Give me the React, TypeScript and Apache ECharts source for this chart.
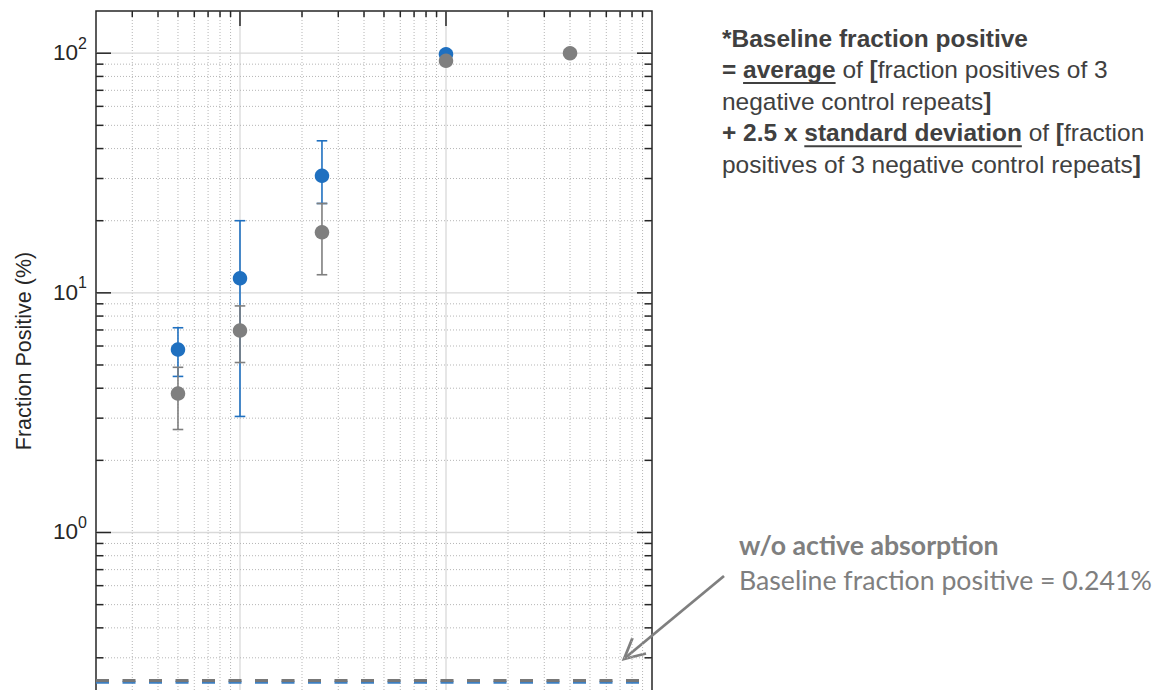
import React, { useEffect, useRef } from 'react';
import * as echarts from 'echarts';

// ---- axis structure ----
const xRange = [2, 1000];
const yRange = [0.2, 150];
const xTicksMajor = [10, 100];
const xTicksMinor = [3, 4, 5, 6, 7, 8, 9, 20, 30, 40, 50, 60, 70, 80, 90, 200, 300, 400, 500, 600, 700, 800, 900];
const yTicksMajor = [1, 10, 100];
const yTicksMinor = [0.3, 0.4, 0.5, 0.6, 0.7, 0.8, 0.9, 2, 3, 4, 5, 6, 7, 8, 9, 20, 30, 40, 50, 60, 70, 80, 90];

// ---- data ----
const blueX = [5, 10, 25, 100];
const blueMean = [5.8, 11.5, 30.8, 99.0];
const blueLow = [4.48, 3.05, 23.6, 99.0];
const blueHigh = [7.15, 20.0, 43.1, 99.0];

const grayX = [5, 10, 25, 100, 400];
const grayMean = [3.8, 6.96, 17.9, 93.0, 100];
const grayLow = [2.69, 5.12, 11.9, 93.0, 100];
const grayHigh = [4.89, 8.82, 23.6, 93.0, 100];

const baselineBlue = 0.237;
const baselineGray = 0.241;

const BLUE = '#1f70c0';
const GRAY = '#7f7f7f';
const AX = '#262626';
const FONT = 'Liberation Sans, Arial, Helvetica, sans-serif';

function measure(text: string, font: string): number {
  const c = document.createElement('canvas');
  const ctx = c.getContext('2d')!;
  ctx.font = font;
  return ctx.measureText(text).width;
}

function errRender(color: string) {
  return (params: any, api: any) => {
    const x = api.value(0);
    const lo = api.value(1);
    const hi = api.value(2);
    if (!(hi > lo)) return null;
    const p1 = api.coord([x, lo]);
    const p2 = api.coord([x, hi]);
    const hw = 5.3;
    const style = { stroke: color, lineWidth: 1.6 };
    return {
      type: 'group',
      children: [
        { type: 'line', shape: { x1: p1[0], y1: p1[1], x2: p2[0], y2: p2[1] }, style },
        { type: 'line', shape: { x1: p1[0] - hw, y1: p1[1], x2: p1[0] + hw, y2: p1[1] }, style },
        { type: 'line', shape: { x1: p2[0] - hw, y1: p2[1], x2: p2[0] + hw, y2: p2[1] }, style },
      ],
    };
  };
}

export default function App() {
  const ref = useRef<HTMLDivElement>(null);

  useEffect(() => {
    if (!ref.current) return;
    const chart = echarts.init(ref.current, undefined, { renderer: 'svg' });

    const gridData = [
      ...xTicksMajor.map((v) => [v, 1, 1]),
      ...xTicksMinor.map((v) => [v, 1, 0]),
      ...yTicksMajor.map((v) => [10, v, 3]),
      ...yTicksMinor.map((v) => [10, v, 2]),
    ];

    // ---- annotation text (top right) ----
    const w21 =
      measure('positives of 3 negative control repeats', '21px Liberation Sans') +
      measure(']', 'bold 21px Liberation Sans');
    const fs = (21 * 419) / w21;
    const bFont = `bold ${fs}px Liberation Sans`;
    const tx = 722;
    const lineCenters = [0, 1, 2, 3, 4].map((i) => 38 + 31.65 * i);
    const TC = '#404040';
    const rich = {
      b: { fontFamily: FONT, fontWeight: 'bold', fontSize: fs, fill: TC },
      r: { fontFamily: FONT, fontWeight: 'normal', fontSize: fs, fill: TC },
    };
    const lines = [
      '{b|*Baseline fraction positive}',
      '{b|= }{b|average}{r| of }{b|[}{r|fraction positives of 3}',
      '{r|negative control repeats}{b|]}',
      '{b|+ 2.5 x }{b|standard deviation}{r| of }{b|[}{r|fraction}',
      '{r|positives of 3 negative control repeats}{b|]}',
    ];
    const u1x = tx + measure('= ', bFont);
    const u1w = measure('average', bFont);
    const u2x = tx + measure('+ 2.5 x ', bFont);
    const u2w = measure('standard deviation', bFont);

    // ---- annotation text (bottom right) ----
    const calFs = (24 * 413) / measure('Baseline fraction positive = 0.241%', '24px Lato');

    const graphic: any[] = [
      ...lines.map((t, i) => ({
        type: 'text',
        x: tx,
        y: lineCenters[i],
        style: { text: t, rich, fill: TC, fontFamily: FONT, fontSize: fs, align: 'left', verticalAlign: 'middle' },
      })),
      { type: 'rect', shape: { x: u1x, y: lineCenters[1] + 12.3, width: u1w, height: 2 }, style: { fill: TC } },
      { type: 'rect', shape: { x: u2x, y: lineCenters[3] + 12.3, width: u2w, height: 2 }, style: { fill: TC } },
      {
        type: 'text',
        x: 739,
        y: 545,
        style: { text: 'w/o active absorption', fontFamily: 'Lato', fontWeight: 'bold', fontSize: calFs, fill: GRAY, align: 'left', verticalAlign: 'middle' },
      },
      {
        type: 'text',
        x: 739,
        y: 579.5,
        style: { text: 'Baseline fraction positive = 0.241%', fontFamily: 'Lato', fontWeight: 'normal', fontSize: calFs, fill: GRAY, align: 'left', verticalAlign: 'middle' },
      },
      { type: 'line', shape: { x1: 724, y1: 576, x2: 625, y2: 658 }, style: { stroke: GRAY, lineWidth: 2.8 } },
      {
        type: 'polyline',
        shape: { points: [[646, 653.5], [624, 659], [632.5, 638]] },
        style: { stroke: GRAY, lineWidth: 2.8, fill: 'none' },
      },
      {
        type: 'text',
        x: 24,
        y: 351,
        rotation: Math.PI / 2,
        style: { text: 'Fraction Positive (%)', fontFamily: FONT, fontSize: 21.5, fill: AX, align: 'center', verticalAlign: 'middle' },
      },
    ];

    const option: any = {
      animation: false,
      backgroundColor: '#ffffff',
      grid: { left: 96, top: 11, width: 556, height: 689, show: true, borderColor: AX, borderWidth: 1.5, backgroundColor: 'transparent' },
      xAxis: {
        type: 'log',
        logBase: 10,
        min: xRange[0],
        max: xRange[1],
        axisLine: { show: false },
        axisTick: { show: false },
        axisLabel: { show: false },
        splitLine: { show: false },
      },
      yAxis: {
        type: 'log',
        logBase: 10,
        min: yRange[0],
        max: yRange[1],
        axisLine: { show: false },
        axisTick: { show: false },
        splitLine: { show: false },
        axisLabel: {
          margin: 9,
          formatter: (v: number) => {
            const e = Math.log10(v);
            if (Math.abs(e - Math.round(e)) < 1e-6) return `{b|10}{s|${Math.round(e)}}`;
            return '';
          },
          rich: {
            b: { fontFamily: FONT, fontSize: 22.5, lineHeight: 22, color: AX, verticalAlign: 'bottom' },
            s: { fontFamily: FONT, fontSize: 16, lineHeight: 16, color: AX, verticalAlign: 'bottom', padding: [0, 0, 13, 0] },
          },
        },
      },
      graphic,
      series: [
        {
          type: 'custom',
          z: 1,
          silent: true,
          data: gridData,
          renderItem: (params: any, api: any) => {
            const cs = params.coordSys;
            const kind = api.value(2);
            const major = kind % 2 === 1;
            const gridStyle = major
              ? { stroke: '#d9d9d9', lineWidth: 1.3 }
              : { stroke: '#b5b5b5', lineWidth: 1, lineDash: [1, 2] };
            const tickStyle = { stroke: AX, lineWidth: 1.5 };
            if (kind < 2) {
              const px = api.coord([api.value(0), 1])[0];
              const tl = major ? 15 : 6;
              return {
                type: 'group',
                children: [
                  { type: 'line', shape: { x1: px, y1: cs.y, x2: px, y2: cs.y + cs.height }, style: gridStyle },
                  { type: 'line', shape: { x1: px, y1: cs.y, x2: px, y2: cs.y + tl }, style: tickStyle },
                ],
              };
            }
            const py = api.coord([10, api.value(1)])[1];
            const tl = major ? 15 : 7.5;
            return {
              type: 'group',
              children: [
                { type: 'line', shape: { x1: cs.x, y1: py, x2: cs.x + cs.width, y2: py }, style: gridStyle },
                { type: 'line', shape: { x1: cs.x, y1: py, x2: cs.x + tl, y2: py }, style: tickStyle },
                { type: 'line', shape: { x1: cs.x + cs.width - tl, y1: py, x2: cs.x + cs.width, y2: py }, style: tickStyle },
              ],
            };
          },
        },
        {
          type: 'line',
          data: [[xRange[0], baselineBlue], [xRange[1], baselineBlue]],
          symbol: 'none',
          lineStyle: { color: '#3d7fc1', width: 3, type: [13, 13.5] },
        },
        {
          type: 'line',
          data: [[xRange[0], baselineGray], [xRange[1], baselineGray]],
          symbol: 'none',
          lineStyle: { color: '#777777', width: 3, type: [13, 13.5] },
        },
        {
          type: 'custom',
          data: blueX.map((x, i) => [x, blueLow[i], blueHigh[i]]),
          renderItem: errRender(BLUE),
        },
        {
          type: 'scatter',
          data: blueX.map((x, i) => [x, blueMean[i]]),
          symbol: 'circle',
          symbolSize: 14.5,
          itemStyle: { color: BLUE, opacity: 1 },
        },
        {
          type: 'custom',
          data: grayX.map((x, i) => [x, grayLow[i], grayHigh[i]]),
          renderItem: errRender(GRAY),
        },
        {
          type: 'scatter',
          data: grayX.map((x, i) => [x, grayMean[i]]),
          symbol: 'circle',
          symbolSize: 14.5,
          itemStyle: { color: GRAY, opacity: 1 },
        },
      ],
    };

    chart.setOption(option);
    return () => chart.dispose();
  }, []);

  return (
    <div style={{ position: 'absolute', left: 0, top: 0, width: 1171, height: 690, overflow: 'hidden' }}>
      <div ref={ref} style={{ width: 1171, height: 700 }} />
    </div>
  );
}
